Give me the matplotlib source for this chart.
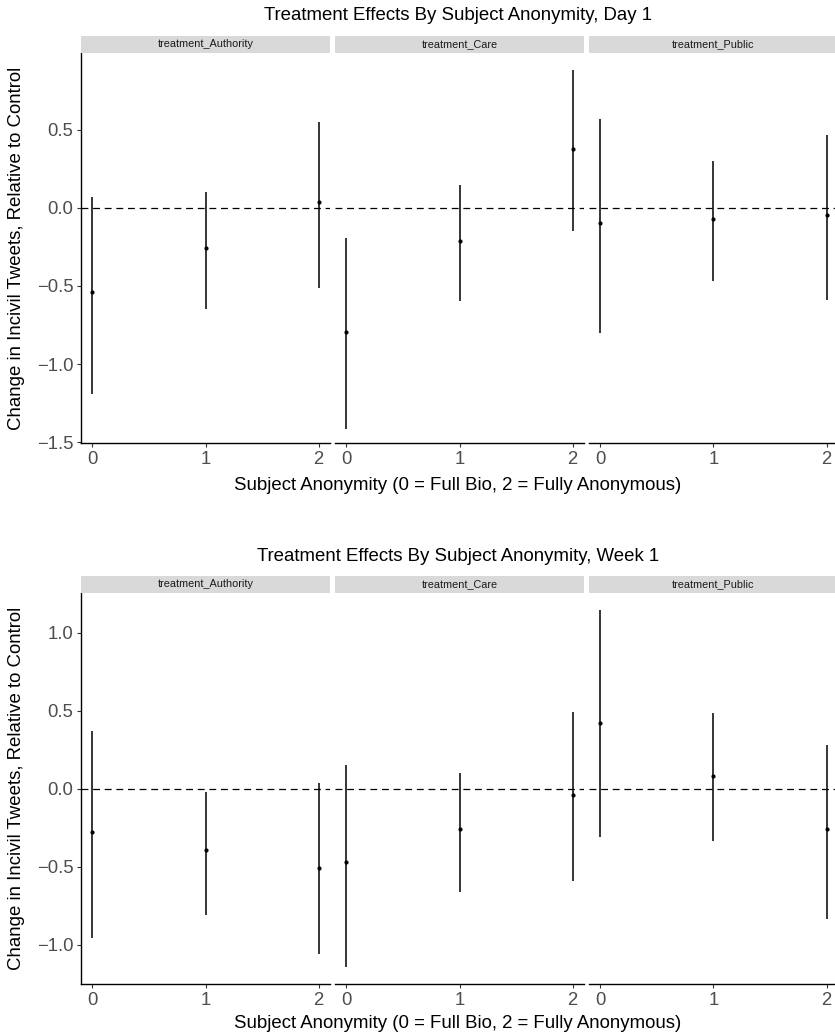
import matplotlib
matplotlib.use("Agg")
import matplotlib.pyplot as plt
import numpy as np

plt.rcParams['font.family'] = ['Liberation Sans', 'DejaVu Sans']

# ---- data ----
treatments = ["treatment_Authority", "treatment_Care", "treatment_Public"]
anonymity = [0, 1, 2]

day1_est = {
    "treatment_Authority": [-0.54, -0.26, 0.034],
    "treatment_Care": [-0.795, -0.212, 0.373],
    "treatment_Public": [-0.094, -0.071, -0.045],
}
day1_lo = {
    "treatment_Authority": [-1.188, -0.647, -0.512],
    "treatment_Care": [-1.413, -0.594, -0.148],
    "treatment_Public": [-0.802, -0.469, -0.587],
}
day1_hi = {
    "treatment_Authority": [0.066, 0.098, 0.547],
    "treatment_Care": [-0.195, 0.146, 0.881],
    "treatment_Public": [0.570, 0.300, 0.463],
}

week1_est = {
    "treatment_Authority": [-0.276, -0.391, -0.506],
    "treatment_Care": [-0.468, -0.256, -0.038],
    "treatment_Public": [0.425, 0.083, -0.256],
}
week1_lo = {
    "treatment_Authority": [-0.957, -0.808, -1.058],
    "treatment_Care": [-1.139, -0.658, -0.588],
    "treatment_Public": [-0.310, -0.331, -0.835],
}
week1_hi = {
    "treatment_Authority": [0.372, -0.017, 0.040],
    "treatment_Care": [0.154, 0.105, 0.496],
    "treatment_Public": [1.147, 0.485, 0.282],
}

y_ticks_day = [-1.5, -1.0, -0.5, 0.0, 0.5]
y_ticks_week = [-1.0, -0.5, 0.0, 0.5, 1.0]
x_ticks = [0, 1, 2]

titles = ["Treatment Effects By Subject Anonymity, Day 1",
          "Treatment Effects By Subject Anonymity, Week 1"]
xlabel = "Subject Anonymity (0 = Full Bio, 2 = Fully Anonymous)"
ylabel = "Change in Incivil Tweets, Relative to Control"

# ---- layout (pixels) ----
W, H = 835, 1036
fig = plt.figure(figsize=(W / 100, H / 100), dpi=100)

panel_left = 81
panel_w = 249
gap = 5


def fx(px):
    return px / W


def fy(py):
    return 1 - py / H


def draw_block(title, est, lo, hi, yticks, ylim, top, bottom, strip_top, title_y, xlabel_y):
    for i, tr in enumerate(treatments):
        left = panel_left + i * (panel_w + gap)
        ax = fig.add_axes([fx(left), fy(bottom), panel_w / W, (bottom - top) / H])
        ax.set_xlim(-0.1, 2.1)
        ax.set_ylim(*ylim)
        ax.axhline(0, color="black", lw=0.9, ls=(0, (5.5, 3.8)), zorder=1)
        ax.vlines(anonymity, lo[tr], hi[tr], color="black", lw=1.1, zorder=2)
        ax.scatter(anonymity, est[tr], s=9, color="black", zorder=3, linewidths=0)
        for s in ["top", "right"]:
            ax.spines[s].set_visible(False)
        ax.spines["bottom"].set_linewidth(1.0)
        ax.spines["left"].set_linewidth(1.0)
        ax.set_xticks(x_ticks)
        ax.set_xticklabels([str(v) for v in x_ticks])
        ax.tick_params(axis="x", length=3, width=0.8, color="#333333",
                       labelcolor="#4D4D4D", labelsize=13.3, pad=2.5)
        if i == 0:
            ax.set_yticks(yticks)
            ax.set_yticklabels([f"{v:.1f}".replace("-", "\u2212") for v in yticks])
            ax.tick_params(axis="y", length=3, width=0.8, color="#333333",
                           labelcolor="#4D4D4D", labelsize=13.3, pad=2.5)
        else:
            ax.spines["left"].set_visible(False)
            ax.set_yticks([])
        ax.patch.set_alpha(0)
        # strip
        sax = fig.add_axes([fx(left), fy(top), panel_w / W, (top - strip_top) / H])
        sax.set_facecolor("#D9D9D9")
        sax.set_xticks([])
        sax.set_yticks([])
        for s in sax.spines.values():
            s.set_visible(False)
        sax.text(0.5, 0.5, tr, ha="center", va="center", fontsize=7.8,
                 color="#1A1A1A", transform=sax.transAxes)
    total_right = panel_left + 3 * panel_w + 2 * gap
    cx = (panel_left + min(total_right, W)) / 2
    fig.text(fx(cx), fy(title_y), title, ha="center", va="center",
             fontsize=13.4, color="black")
    fig.text(fx(cx), fy(xlabel_y), xlabel, ha="center", va="center",
             fontsize=13.4, color="black")
    fig.text(fx(17), fy((top + bottom) / 2), ylabel, ha="center", va="center",
             rotation=90, fontsize=13.4, color="black")


draw_block(titles[0], day1_est, day1_lo, day1_hi, y_ticks_day, (-1.506, 0.992),
           top=52.7, bottom=443.3, strip_top=36, title_y=15, xlabel_y=485)
draw_block(titles[1], week1_est, week1_lo, week1_hi, y_ticks_week, (-1.252, 1.258),
           top=592.7, bottom=984.3, strip_top=576, title_y=556.5, xlabel_y=1023)

fig.savefig("out.png", dpi=100, facecolor="white")
